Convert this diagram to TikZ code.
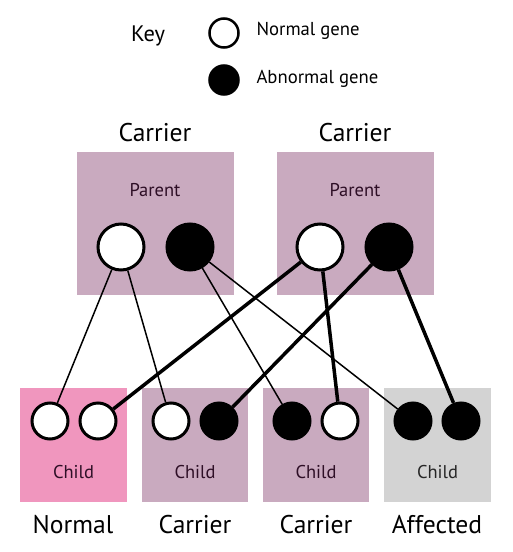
\documentclass[tikz,border=0pt]{standalone}
\usepackage{fontspec}
\setmainfont{PT Sans}
\definecolor{mauve}{HTML}{C9AABF}
\definecolor{pinkbox}{HTML}{F096BE}
\definecolor{greybox}{HTML}{D3D3D3}
\definecolor{boxtext}{HTML}{2E0F26}
\begin{document}
\begin{tikzpicture}[x=1pt,y=-1pt,
  pgene/.style={circle,draw=black,line width=3pt,fill=white,minimum size=46pt,inner sep=0pt},
  pbad/.style={pgene,fill=black},
  cgene/.style={circle,draw=black,line width=3pt,fill=white,minimum size=36pt,inner sep=0pt},
  cbad/.style={cgene,fill=black},
  kgene/.style={circle,draw=black,line width=2.5pt,fill=white,minimum size=29pt,inner sep=0pt},
  kbad/.style={kgene,fill=black},
  thinlink/.style={line width=1.5pt},
  thicklink/.style={line width=3.5pt},
  big/.style={font=\fontsize{25.6}{30}\selectfont},
  small/.style={font=\fontsize{18.5}{22}\selectfont,text=boxtext},
  keytext/.style={font=\fontsize{18.7}{22}\selectfont,anchor=west}
]
\useasboundingbox (0,0) rectangle (513,552);
% key
\node[font=\fontsize{22.4}{26}\selectfont] (key) at (148,36) {Key};
\node[kgene] (kn) at (224,33) {};
\node[kbad] (ka) at (224,80) {};
\node[keytext] (knt) at (253,31) {Normal gene};
\node[keytext] (kat) at (253,79) {Abnormal gene};
% parents
\node[big] (lc) at (155,133) {Carrier};
\node[big] (rc) at (355,133) {Carrier};
\fill[mauve] (77,152) rectangle (234,295);
\fill[mauve] (277,152) rectangle (434,295);
\node[small] (lp) at (155,190) {Parent};
\node[small] (rp) at (355,190) {Parent};
% children boxes
\fill[pinkbox] (20,388) rectangle (127,502);
\fill[mauve] (142,388) rectangle (248,502);
\fill[mauve] (263,388) rectangle (369,502);
\fill[greybox] (384,388) rectangle (491,502);
\node[small] (ch1) at (73.5,472) {Child};
\node[small] (ch2) at (195,472) {Child};
\node[small] (ch3) at (316,472) {Child};
\node[small,text=black!85] (ch4) at (437.5,472) {Child};
\node[big] (l1) at (73,525) {Normal};
\node[big] (l2) at (195,525) {Carrier};
\node[big] (l3) at (316,525) {Carrier};
\node[big] (l4) at (437,525) {Affected};
% genes
\node[pgene] (pw1) at (121,247) {};
\node[pbad] (pb1) at (190,247) {};
\node[pgene] (pw2) at (320,247) {};
\node[pbad] (pb2) at (389,247) {};
\node[cgene] (n1) at (50,421) {};
\node[cgene] (n2) at (98,421) {};
\node[cgene] (c1) at (171,421) {};
\node[cbad] (c2) at (219,421) {};
\node[cbad] (d1) at (292,421) {};
\node[cgene] (d2) at (340,421) {};
\node[cbad] (a1) at (413,421) {};
\node[cbad] (a2) at (461,421) {};
% links
\draw[thinlink] (pw1) -- (n1);
\draw[thinlink] (pw1) -- (c1);
\draw[thinlink] (pb1) -- (d1);
\draw[thinlink] (pb1) -- (a1);
\draw[thicklink] (pw2) -- (n2);
\draw[thicklink] (pw2) -- (d2);
\draw[thicklink] (pb2) -- (c2);
\draw[thicklink] (pb2) -- (a2);
\end{tikzpicture}
\end{document}
